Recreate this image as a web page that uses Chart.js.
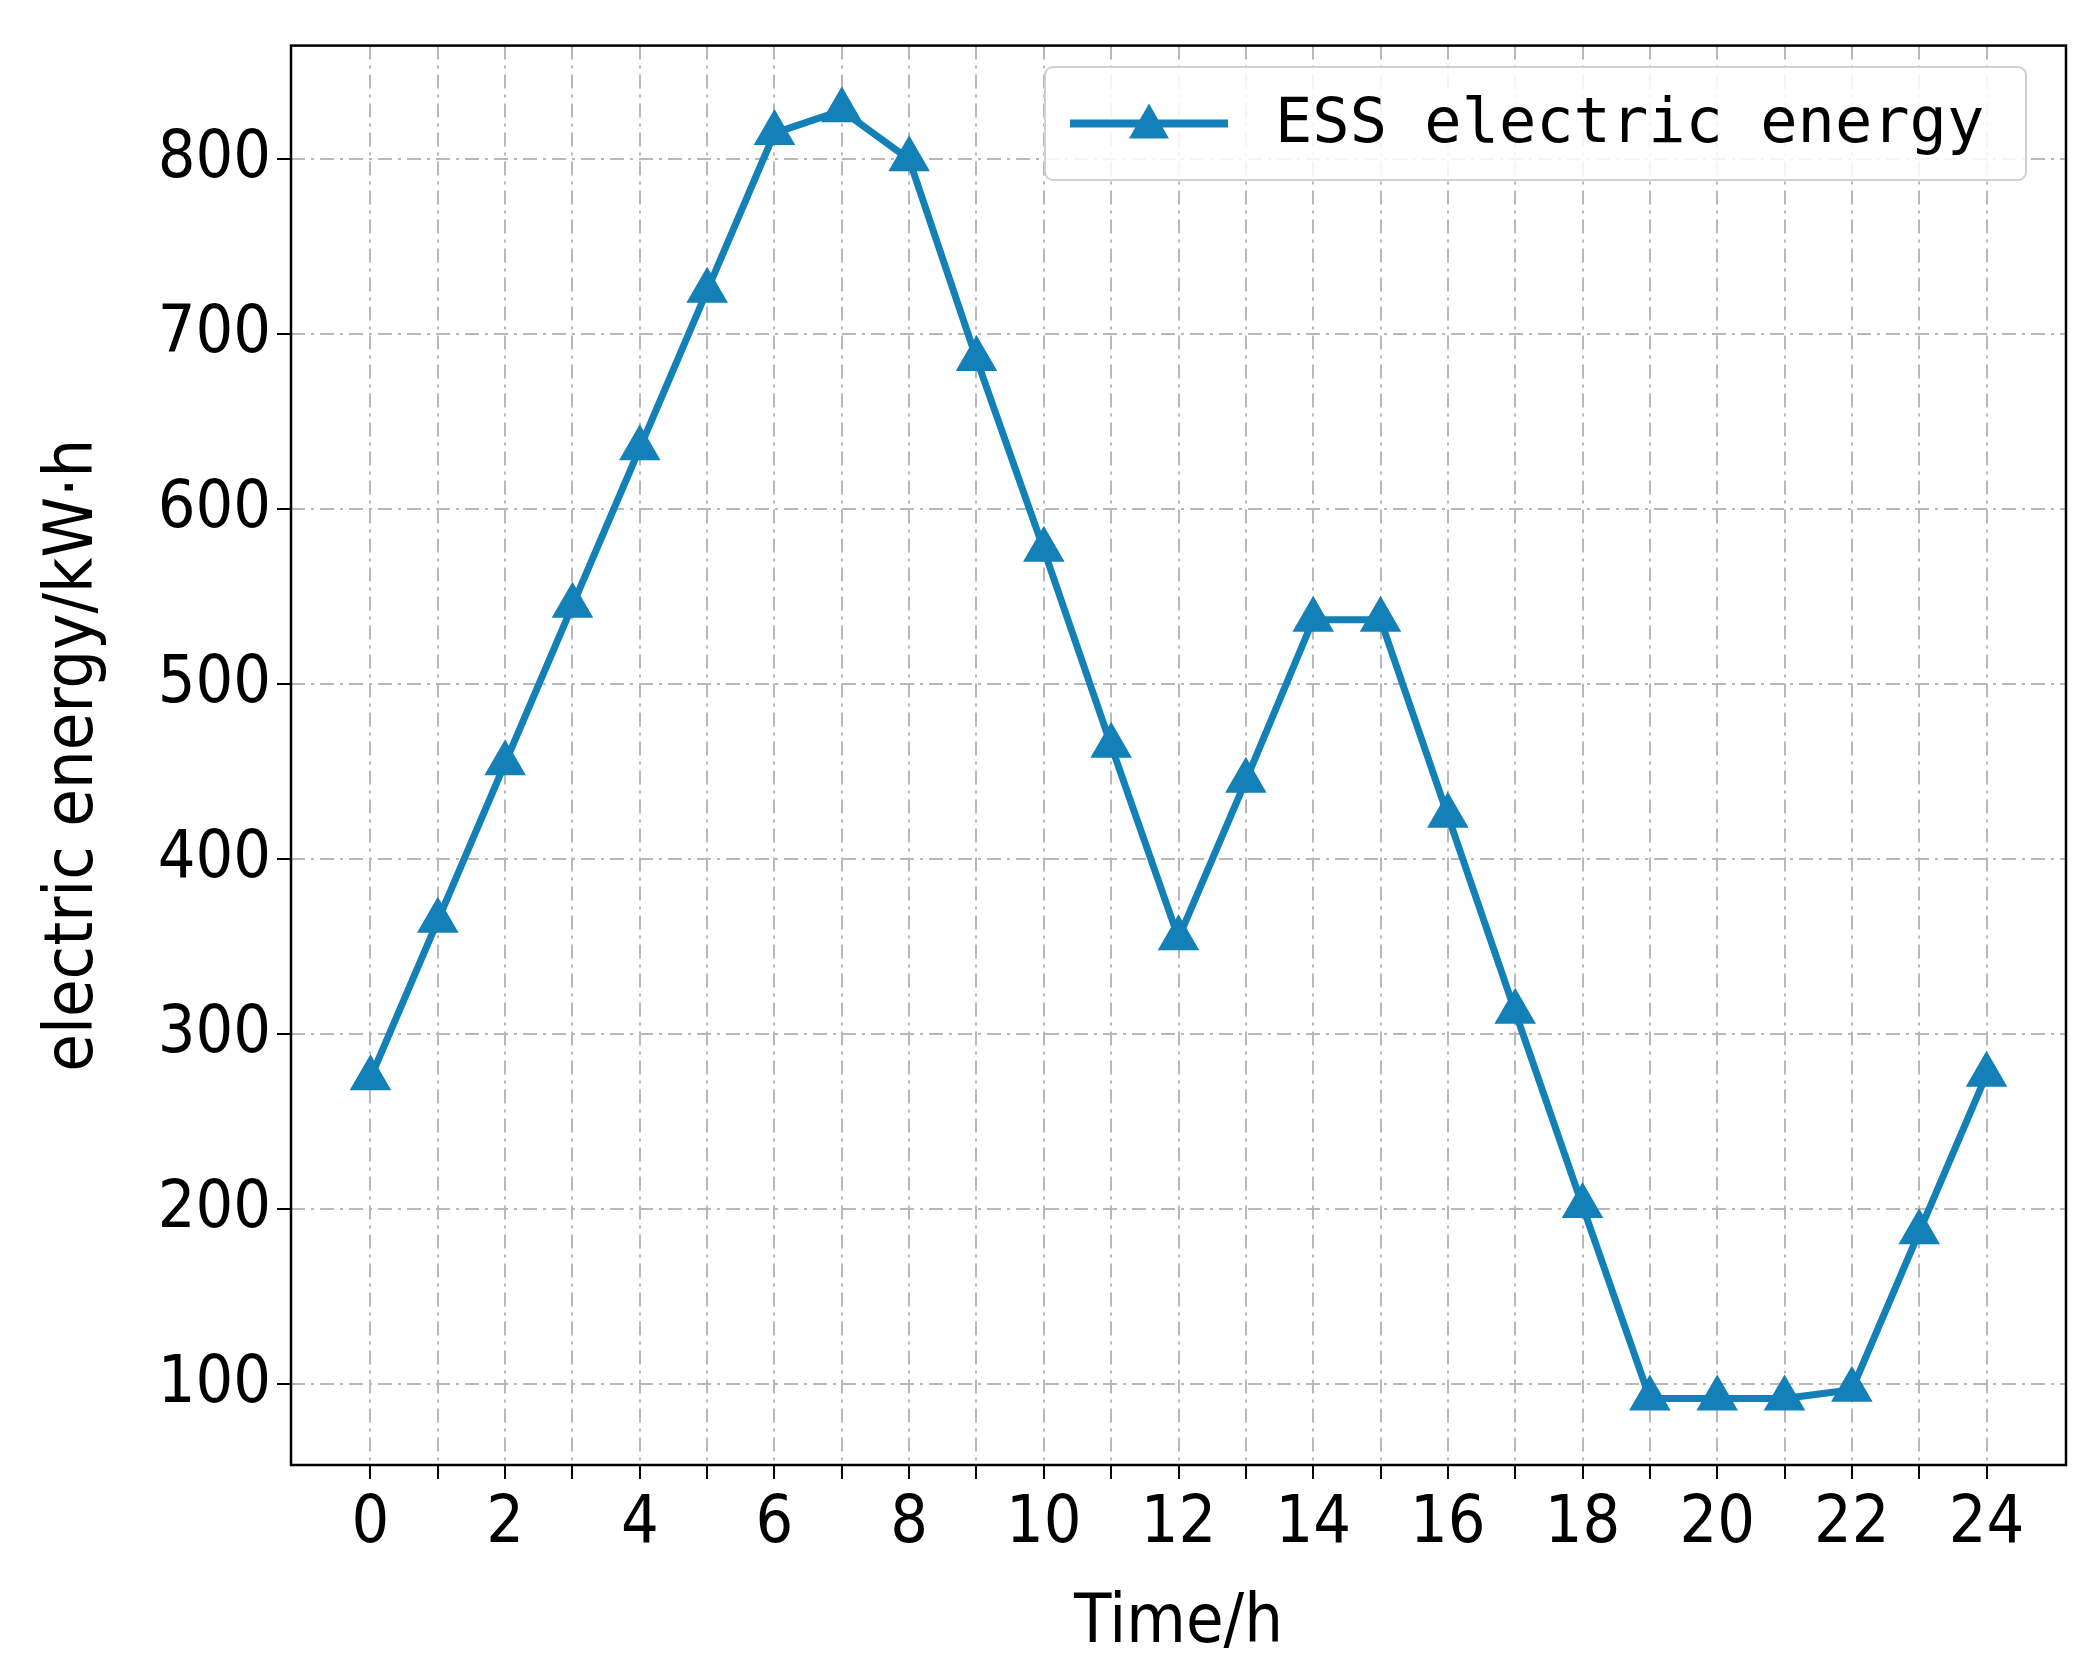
<!DOCTYPE html>
<html><head><meta charset="utf-8">
<script src="https://cdn.jsdelivr.net/npm/chart.js@4/dist/chart.umd.min.js"></script>
<style>html,body{margin:0;padding:0;background:#fff}#w{width:2090px;height:1669px}</style>
</head><body><div id="w"><canvas id="c"></canvas></div>
<script>
const hours = [0,1,2,3,4,5,6,7,8,9,10,11,12,13,14,15,16,17,18,19,20,21,22,23,24];
const essEnergy = [275,365,455,545,635,725,815,828,800,686,577,465,355,445,537,537,425,313,202,92,92,92,97,187,277];
const yTicks = [100,200,300,400,500,600,700,800];
const seriesName = 'ESS electric energy';
const color = '#1380b8';
const font = "'DejaVu Sans Condensed', 'Liberation Sans Narrow', sans-serif";

const frame = {
  id:'frame',
  afterDraw(ch){
    const {ctx, chartArea:a} = ch;
    ctx.save();
    ctx.strokeStyle='#000'; ctx.lineWidth=2.5;
    ctx.strokeRect(a.left,a.top,a.right-a.left,a.bottom-a.top);
    const bx=1045, by=67, bw=981, bh=113;
    ctx.fillStyle='rgba(255,255,255,0.85)';
    ctx.strokeStyle='#d0d0d0'; ctx.lineWidth=2;
    ctx.beginPath(); ctx.roundRect(bx,by,bw,bh,8); ctx.fill(); ctx.stroke();
    const ly=by+bh/2;
    ctx.strokeStyle=color; ctx.lineWidth=8;
    ctx.beginPath(); ctx.moveTo(1070,ly); ctx.lineTo(1228,ly); ctx.stroke();
    ctx.fillStyle=color;
    ctx.beginPath(); ctx.moveTo(1149,ly-20); ctx.lineTo(1169,ly+15); ctx.lineTo(1129,ly+15); ctx.closePath(); ctx.fill();
    ctx.fillStyle='#000'; ctx.font="62px 'DejaVu Sans Mono', monospace"; ctx.textBaseline='middle';
    ctx.fillText(seriesName,1275,ly+2);
    ctx.restore();
  }
};

new Chart(document.getElementById('c'),{
  type:'line',
  data:{datasets:[{label:seriesName,data:hours.map((h,i)=>({x:h,y:essEnergy[i]})),
    borderColor:color,backgroundColor:color,borderWidth:7,pointStyle:'triangle',
    pointRadius:17,pointHoverRadius:17,tension:0}]},
  options:{
    responsive:true,maintainAspectRatio:false,animation:false,devicePixelRatio:1,
    layout:{padding:{top:14,right:2,left:30,bottom:0}},
    plugins:{legend:{display:false},tooltip:{enabled:false}},
    scales:{
      x:{type:'linear',min:-1.18,max:25.18,
        afterBuildTicks(ax){ax.ticks=hours.map(v=>({value:v}));},
        afterFit(ax){ax.height=204;},
        grid:{color:'#b8b8b8',lineWidth:2,tickLength:14,tickColor:'#000',drawTicks:true},
        border:{display:false,dash:[14,6,3,6]},
        ticks:{autoSkip:false,maxRotation:0,color:'#000',padding:6,font:{size:66,family:font},
          callback:v=>v%2===0?String(v):''},
        title:{display:true,text:'Time/h',color:'#000',font:{size:68,family:font},padding:{top:0}}
      },
      y:{min:54,max:865,
        afterBuildTicks(ax){ax.ticks=yTicks.map(v=>({value:v}));},
        afterFit(ax){ax.width=261;},
        grid:{color:'#b8b8b8',lineWidth:2,tickLength:14,tickColor:'#000'},
        border:{display:false,dash:[14,6,3,6]},
        ticks:{color:'#000',padding:6,font:{size:66,family:font}},
        title:{display:true,text:'electric energy/kW·h',color:'#000',font:{size:68,family:font},padding:{bottom:4}}
      }
    }
  },
  plugins:[frame]
});
</script></body></html>
